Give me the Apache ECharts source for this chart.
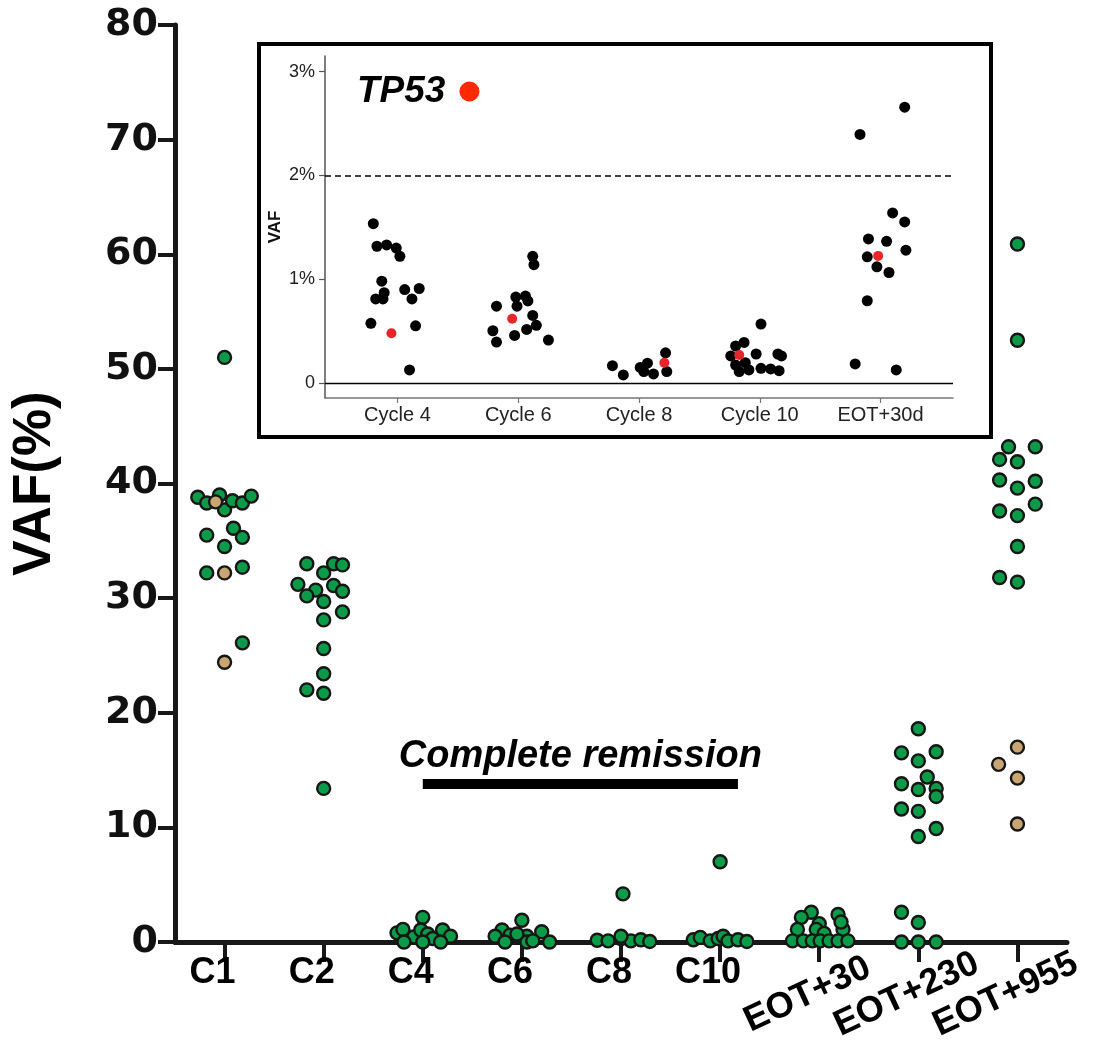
<!DOCTYPE html>
<html>
<head>
<meta charset="utf-8">
<script src="https://cdn.jsdelivr.net/npm/echarts@6/dist/echarts.min.js"></script>
<style>
  html, body { margin: 0; padding: 0; background: #ffffff; }
  #chart { width: 1094px; height: 1045px; }
</style>
</head>
<body>
<div id="chart"></div>
<script>
// ---- Main panel: VAF (%) per sampling time point ----
const categories = ['C1', 'C2', 'C4', 'C6', 'C8', 'C10', 'EOT+30', 'EOT+230', 'EOT+955'];

// Each point: [horizontal jitter within its column, VAF %]
const greenC1 = [[0, 51.0], [-0.27, 38.8], [-0.18, 38.3], [-0.05, 39.0], [0, 37.7], [0.08, 38.5], [0.18, 38.3], [0.27, 38.9],
  [-0.18, 35.5], [0.09, 36.1], [0.18, 35.3], [0, 34.5], [-0.18, 32.2], [0.18, 32.7], [0.18, 26.1]];
const greenC2 = [[-0.17, 33.0], [0.10, 33.0], [0.19, 32.9], [0, 32.2], [-0.26, 31.2], [-0.08, 30.7], [0.10, 31.1], [0.19, 30.6],
  [-0.17, 30.2], [0, 29.7], [0.19, 28.8], [0, 28.1], [0, 25.6], [0, 23.4], [-0.17, 22.0], [0, 21.7], [0, 13.4]];
const greenC4 = [[-0.26, 0.8], [-0.2, 1.1], [-0.09, 0.45], [0, 2.15], [-0.02, 1.05], [0.05, 0.7], [0.1, 0.3], [0.2, 1.05],
  [0.28, 0.5], [-0.19, 0], [0, 0], [0.18, 0]];
const greenC6 = [[0, 1.9], [-0.2, 1.05], [-0.27, 0.5], [-0.12, 0.6], [0.05, 0.5], [0.2, 0.9], [-0.17, 0], [0.05, 0],
  [0.28, 0], [-0.05, 0.7], [0.11, 0.1]];
const greenC8 = [[0.02, 4.2], [-0.24, 0.15], [-0.13, 0.1], [0, 0.3], [0.1, 0.1], [0.2, 0.2], [0.29, 0.05], [0, 0.5]];
const greenC10 = [[0, 7.0], [-0.27, 0.2], [-0.2, 0.4], [-0.1, 0.1], [-0.02, 0.3], [0.03, 0.5], [0.08, 0.1], [0.18, 0.2], [0.27, 0.05]];
const greenEOT30 = [[-0.08, 2.6], [-0.18, 2.15], [0.19, 2.4], [-0.22, 1.1], [0, 1.6], [-0.03, 1.1], [0.05, 0.75], [0.24, 1.1],
  [0.22, 1.75], [-0.27, 0.1], [-0.16, 0.1], [-0.07, 0.1], [0.01, 0.1], [0.1, 0.1], [0.19, 0.1], [0.29, 0.1]];
const greenEOT230 = [[0, 18.6], [-0.17, 16.5], [0.18, 16.6], [0, 15.8], [0.09, 14.4], [-0.17, 13.8], [0, 13.3], [0.18, 13.4],
  [0.18, 12.7], [-0.17, 11.6], [0, 11.4], [0.18, 9.9], [0, 9.2], [-0.17, 2.6], [0, 1.7], [-0.17, 0], [0, 0], [0.18, 0]];
const greenEOT955 = [[0, 60.9], [0, 52.5], [-0.09, 43.2], [0.18, 43.2], [-0.18, 42.1], [0, 41.9], [-0.18, 40.3], [0, 39.6],
  [0.18, 40.2], [-0.18, 37.6], [0, 37.2], [0.18, 38.2], [0, 34.5], [-0.18, 31.8], [0, 31.4]];

const tanC1 = [[-0.09, 38.4], [0, 32.2], [0, 24.4]];
const tanEOT955 = [[0, 17.0], [-0.19, 15.5], [0, 14.3], [0, 10.3]];

const greenGroups = [greenC1, greenC2, greenC4, greenC6, greenC8, greenC10, greenEOT30, greenEOT230, greenEOT955];
const tanGroups = [tanC1, [], [], [], [], [], [], [], tanEOT955];

// Remission period bar: spans columns C4 .. just past C10, drawn at this VAF level
const remissionSpan = [2, 5.18];
const remissionLevel = 13.8;

// ---- Inset: TP53 and other variants (VAF %) ----
const insetCategories = ['Cycle 4', 'Cycle 6', 'Cycle 8', 'Cycle 10', 'EOT+30d'];
const insetTickValues = [0, 1, 2, 3];
const insetTickLabels = ['0', '1%', '2%', '3%'];
const insetThreshold = 2;

const blackCycle4 = [[-0.20, 1.535], [-0.17, 1.317], [-0.09, 1.33], [-0.01, 1.30], [0.02, 1.22], [-0.13, 0.98], [-0.11, 0.87],
  [-0.18, 0.81], [-0.12, 0.81], [0.06, 0.90], [0.18, 0.91], [0.12, 0.81], [-0.22, 0.574], [0.15, 0.55], [0.10, 0.125]];
const blackCycle6 = [[0.12, 1.22], [0.13, 1.14], [-0.02, 0.827], [0.06, 0.837], [0.08, 0.79], [-0.01, 0.74], [-0.18, 0.74],
  [0.12, 0.65], [0.15, 0.555], [-0.21, 0.503], [-0.03, 0.458], [0.07, 0.516], [-0.18, 0.394], [0.25, 0.413]];
const blackCycle8 = [[-0.22, 0.166], [-0.13, 0.077], [0.01, 0.15], [0.07, 0.19], [0.04, 0.11], [0.12, 0.087], [0.22, 0.29], [0.23, 0.11]];
const blackCycle10 = [[-0.20, 0.356], [-0.13, 0.39], [-0.24, 0.26], [-0.20, 0.173], [-0.12, 0.195], [-0.17, 0.11], [-0.09, 0.125],
  [0.01, 0.567], [-0.03, 0.279], [0.01, 0.141], [0.09, 0.135], [0.16, 0.118], [0.15, 0.279], [0.18, 0.26]];
const blackEOT30d = [[0.20, 2.657], [-0.17, 2.394], [0.10, 1.638], [0.20, 1.551], [-0.10, 1.388], [0.05, 1.365], [0.21, 1.279],
  [-0.11, 1.215], [-0.03, 1.119], [0.07, 1.064], [-0.11, 0.792], [-0.21, 0.183], [0.13, 0.125]];
const blackGroups = [blackCycle4, blackCycle6, blackCycle8, blackCycle10, blackEOT30d];

const tp53Values = [0.478, 0.618, 0.195, 0.269, 1.224];
const tp53Jitter = [-0.05, -0.05, 0.21, -0.17, -0.02];

// ---- build scatter data: column index + jitter ----
function place(groups) {
  const out = [];
  groups.forEach((pts, i) => pts.forEach(p => out.push([i + p[0], p[1]])));
  return out;
}
const greenData = place(greenGroups);
const tanData = place(tanGroups);
const blackData = place(blackGroups);
const tp53Data = tp53Values.map((v, i) => [i + tp53Jitter[i], v]);

const INK = '#181818';
const SANS = "'Liberation Sans', Arial, Helvetica, sans-serif";
const idx = n => Array.from({ length: n }, (_, i) => i);

const chart = echarts.init(document.getElementById('chart'), null, { renderer: 'canvas' });

chart.setOption({
  animation: false,
  backgroundColor: '#ffffff',
  legend: {
    data: [{ name: 'TP53', icon: 'circle', itemStyle: { color: '#ff2a00' } }],
    left: 357, top: 73, padding: 0,
    align: 'right',
    itemWidth: 20, itemHeight: 20,
    selectedMode: false,
    textStyle: { fontSize: 37, fontWeight: 'bold', fontStyle: 'italic', color: '#000', fontFamily: SANS, padding: [0, 9, 0, 0] }
  },
  graphic: [{
    type: 'rect', z: 10, silent: true,
    shape: { x: 259, y: 44, width: 732, height: 393 },
    style: { fill: 'none', stroke: '#000', lineWidth: 4 }
  }],
  grid: [
    { left: 175, right: 27, top: 25, bottom: 103, outerBoundsMode: 'none', containLabel: false },
    { left: 325, right: 141, top: 56, bottom: 647, outerBoundsMode: 'none', containLabel: false }
  ],
  xAxis: [
    {
      type: 'value', gridIndex: 0, position: 'bottom', min: -0.5, max: 8.5,
      axisLine: { show: true, onZero: false, lineStyle: { color: INK, width: 5 } },
      axisTick: { show: true, customValues: idx(9), length: 20, lineStyle: { color: INK, width: 4 } },
      axisLabel: {
        customValues: idx(6), formatter: v => categories[Math.round(v)],
        fontSize: 36, fontWeight: 'bold', fontFamily: SANS, color: '#000',
        margin: 13, padding: [0, 24, 0, 0]
      },
      splitLine: { show: false }
    },
    {
      type: 'value', gridIndex: 0, position: 'bottom', min: -0.5, max: 8.5,
      axisLine: { show: false, onZero: false },
      axisTick: { show: false },
      axisLabel: {
        customValues: [6, 7, 8], formatter: v => categories[Math.round(v)],
        rotate: 25, align: 'center', verticalAlign: 'middle',
        fontSize: 36, fontWeight: 'bold', fontFamily: SANS, color: '#000',
        margin: 47, padding: [0, 26, 0, 0]
      },
      splitLine: { show: false }
    },
    {
      type: 'value', gridIndex: 1, min: -0.6, max: 4.6,
      axisLine: { show: true, onZero: false, lineStyle: { color: '#777', width: 1.5 } },
      axisTick: { show: true, customValues: idx(5), length: 5, lineStyle: { color: '#777', width: 1.2 } },
      axisLabel: {
        customValues: idx(5), formatter: v => insetCategories[Math.round(v)],
        fontSize: 20, color: '#222', fontFamily: SANS, margin: 7
      },
      splitLine: { show: false }
    }
  ],
  yAxis: [
    {
      type: 'value', gridIndex: 0, min: 0, max: 80, interval: 10,
      axisLine: { show: true, onZero: false, lineStyle: { color: INK, width: 5 } },
      axisTick: { show: true, length: 17, lineStyle: { color: INK, width: 4 } },
      axisLabel: { fontSize: 38, fontWeight: 'bold', fontFamily: "'DejaVu Sans', sans-serif", color: '#111', margin: 17 },
      splitLine: { show: false },
      name: 'VAF(%)', nameLocation: 'middle', nameGap: 113, nameMoveOverlap: false,
      nameTextStyle: { fontSize: 53, fontWeight: 'bold', fontFamily: SANS, color: '#000' }
    },
    {
      type: 'value', gridIndex: 1, min: -0.145, max: 3.15,
      axisLine: { show: true, onZero: false, lineStyle: { color: '#555', width: 1.5 } },
      axisTick: { show: true, customValues: insetTickValues, length: 6, lineStyle: { color: '#555', width: 1.2 } },
      axisLabel: {
        customValues: insetTickValues,
        formatter: v => insetTickLabels[insetTickValues.indexOf(Math.round(v))],
        fontSize: 18, color: '#222', fontFamily: SANS, margin: 10
      },
      splitLine: { show: false },
      name: 'VAF', nameLocation: 'middle', nameGap: 41, nameMoveOverlap: false,
      nameTextStyle: { fontSize: 17, fontWeight: 'bold', fontFamily: SANS, color: '#111' }
    }
  ],
  series: [
    {
      name: 'VAF', type: 'scatter', xAxisIndex: 0, yAxisIndex: 0,
      data: greenData, symbolSize: 13, z: 3,
      itemStyle: { color: '#0b9a48', borderColor: '#161616', borderWidth: 2.4, opacity: 1 },
      emphasis: { disabled: true },
      markLine: {
        silent: true, symbol: ['none', 'none'],
        lineStyle: { color: '#000', width: 10, type: 'solid' },
        label: {
          show: true, position: 'middle', formatter: 'Complete remission',
          fontSize: 38, fontWeight: 'bold', fontStyle: 'italic', fontFamily: SANS, color: '#000', distance: 8
        },
        emphasis: { disabled: true },
        data: [[{ coord: [remissionSpan[0], remissionLevel] }, { coord: [remissionSpan[1], remissionLevel] }]]
      }
    },
    {
      name: 'VAF (subclone)', type: 'scatter', xAxisIndex: 0, yAxisIndex: 0,
      data: tanData, symbolSize: 13, z: 4,
      itemStyle: { color: '#caa574', borderColor: '#161616', borderWidth: 2.4, opacity: 1 },
      emphasis: { disabled: true }
    },
    {
      name: 'Other variants', type: 'scatter', xAxisIndex: 2, yAxisIndex: 1,
      data: blackData, symbolSize: 11, z: 3,
      itemStyle: { color: '#000', opacity: 1 },
      emphasis: { disabled: true },
      markLine: {
        silent: true, symbol: ['none', 'none'], label: { show: false },
        emphasis: { disabled: true },
        data: [
          { yAxis: 0, lineStyle: { color: '#000', width: 1.3, type: 'solid' } },
          { yAxis: insetThreshold, lineStyle: { color: '#000', width: 1.5, type: [6, 4] } }
        ]
      }
    },
    {
      name: 'TP53', type: 'scatter', xAxisIndex: 2, yAxisIndex: 1,
      data: tp53Data, symbolSize: 10, z: 5,
      itemStyle: { color: '#e8262a', opacity: 1 },
      emphasis: { disabled: true }
    }
  ]
});
</script>
</body>
</html>
